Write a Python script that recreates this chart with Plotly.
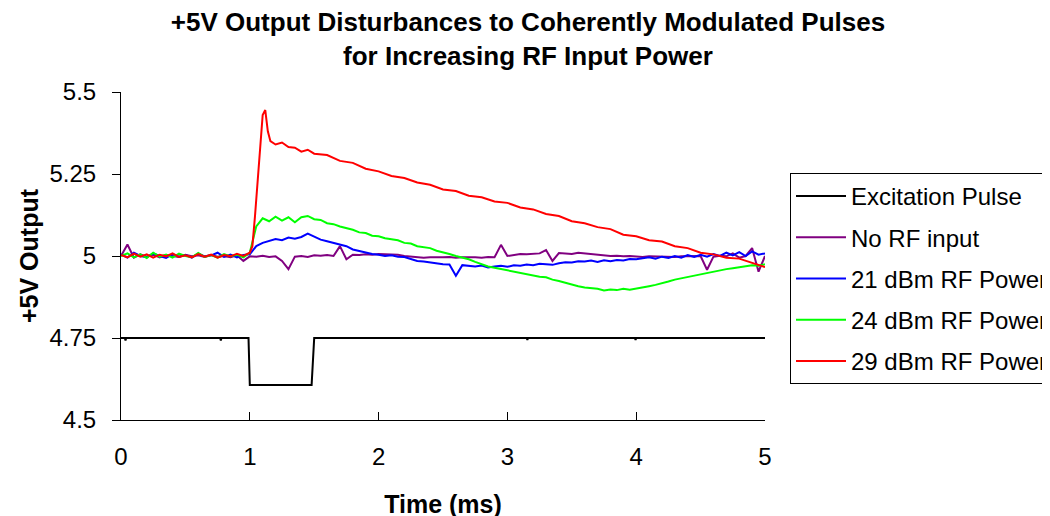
"""+5V output disturbances to coherently modulated pulses."""

import plotly.graph_objects as go

# time grid for the 0.05 ms sampled traces
TIME = [round(i * 0.05, 2) for i in range(101)]

NO_RF = [
    5.000, 5.035, 4.995, 5.005, 4.998, 5.004, 4.996, 5.003, 5.000, 4.997,
    5.004, 4.999, 5.002, 4.997, 5.003, 4.998, 5.000, 4.996, 5.002, 4.985,
    4.999, 4.998, 5.001, 4.997, 4.999, 4.985, 4.960, 4.998, 5.000, 4.997,
    5.002, 5.001, 5.003, 5.000, 5.030, 4.990, 5.004, 5.003, 5.005, 5.004,
    5.006, 5.005, 5.003, 5.004, 5.000, 4.998, 4.996, 4.995, 4.996, 4.995,
    4.996, 4.997, 4.995, 4.996, 4.997, 4.996, 4.995, 4.997, 4.996, 5.034,
    5.000, 5.004, 5.006, 5.005, 5.007, 5.008, 5.018, 4.985, 5.009, 5.008,
    5.006, 5.010, 5.008, 5.006, 5.004, 5.003, 5.000, 5.001, 4.999, 5.000,
    4.998, 4.997, 4.999, 4.998, 4.997, 4.998, 4.997, 4.999, 5.000, 4.999,
    5.000, 4.958, 4.998, 5.001, 4.999, 5.008, 4.995, 5.000, 5.024, 4.952,
    5.000,
]

RF_21 = [
    5.005, 4.995, 5.010, 5.000, 4.996, 5.008, 5.000, 4.994, 5.006, 4.998,
    5.003, 4.995, 5.007, 4.999, 5.002, 5.010, 4.997, 5.004, 4.996, 5.003,
    5.005, 5.030, 5.040, 5.045, 5.052, 5.048, 5.056, 5.053, 5.058, 5.068,
    5.058, 5.050, 5.045, 5.040, 5.034, 5.030, 5.020, 5.015, 5.010, 5.006,
    5.004, 5.000, 5.002, 4.998, 4.997, 4.992, 4.985, 4.983, 4.980, 4.978,
    4.975, 4.974, 4.940, 4.972, 4.970, 4.968, 4.971, 4.965, 4.968, 4.970,
    4.967, 4.972, 4.970, 4.974, 4.972, 4.976, 4.975, 4.973, 4.978, 4.981,
    4.980, 4.984, 4.983, 4.986, 4.982, 4.987, 4.984, 4.988, 4.986, 4.991,
    4.990, 4.993, 4.996, 4.992, 4.998, 4.994, 5.000, 4.995, 5.003, 4.997,
    5.004, 4.998, 5.006, 5.000, 5.010, 5.002, 5.012, 5.000, 5.014, 5.004,
    5.008,
]

RF_24 = [
    5.000, 5.008, 4.996, 5.005, 4.994, 5.010, 4.998, 5.004, 4.995, 5.007,
    5.000, 4.996, 5.009, 4.997, 5.003, 4.995, 5.006, 4.999, 5.004, 4.996,
    5.010, 5.090, 5.115, 5.106, 5.120, 5.108, 5.118, 5.103, 5.118, 5.122,
    5.112, 5.110, 5.100, 5.097, 5.090, 5.086, 5.080, 5.072, 5.070, 5.062,
    5.060, 5.054, 5.050, 5.048, 5.040, 5.038, 5.030, 5.028, 5.024, 5.016,
    5.012, 5.006, 5.000, 4.995, 4.990, 4.982, 4.975, 4.968, 4.964, 4.960,
    4.956, 4.952, 4.950, 4.945, 4.940, 4.937, 4.935, 4.928, 4.924, 4.918,
    4.912, 4.908, 4.904, 4.902, 4.900, 4.895, 4.898, 4.896, 4.900, 4.897,
    4.900, 4.904, 4.908, 4.912, 4.916, 4.922, 4.928, 4.932, 4.936, 4.940,
    4.945, 4.950, 4.954, 4.957, 4.960, 4.963, 4.966, 4.969, 4.972, 4.970,
    4.975,
]

# 29 dBm trace has its own finer sampling around the spike
RF_29_T = [
    0.00, 0.05, 0.10, 0.15, 0.20, 0.25, 0.30, 0.35, 0.40, 0.45,
    0.50, 0.55, 0.60, 0.65, 0.70, 0.75, 0.80, 0.85, 0.90, 0.95,
    1.00, 1.02, 1.04, 1.06, 1.08, 1.10, 1.12, 1.14, 1.16, 1.20,
    1.25, 1.30, 1.35, 1.40, 1.45, 1.50, 1.60, 1.70, 1.80, 1.90,
    2.00, 2.10, 2.20, 2.30, 2.40, 2.50, 2.60, 2.70, 2.80, 2.90,
    3.00, 3.10, 3.20, 3.30, 3.40, 3.50, 3.60, 3.70, 3.80, 3.90,
    4.00, 4.10, 4.20, 4.30, 4.40, 4.50, 4.60, 4.70, 4.80, 4.90,
    5.00,
]
RF_29 = [
    5.003, 4.996, 5.007, 4.998, 5.005, 4.995, 5.004, 4.999, 5.008, 4.997,
    5.002, 4.996, 5.006, 4.998, 5.004, 4.995, 5.003, 4.999, 5.007, 5.000,
    5.010, 5.030, 5.120, 5.220, 5.310, 5.430, 5.445, 5.380, 5.350, 5.340,
    5.346, 5.332, 5.330, 5.318, 5.324, 5.312, 5.308, 5.290, 5.284, 5.266,
    5.258, 5.244, 5.238, 5.224, 5.217, 5.203, 5.198, 5.184, 5.179, 5.166,
    5.162, 5.148, 5.142, 5.128, 5.122, 5.106, 5.100, 5.088, 5.082, 5.065,
    5.060, 5.048, 5.044, 5.030, 5.024, 5.010, 5.005, 4.995, 4.992, 4.978,
    4.966,
]

PULSE_T = [0.00, 0.03, 0.035, 0.04, 0.77, 0.775, 0.78, 0.99, 1.00, 1.48,
           1.50, 3.15, 3.155, 3.16, 3.99, 3.995, 4.00, 5.00]
PULSE_V = [4.750, 4.750, 4.742, 4.750, 4.750, 4.742, 4.750, 4.750, 4.607, 4.607,
           4.750, 4.750, 4.744, 4.750, 4.750, 4.744, 4.750, 4.750]

Y_TICKS = [4.5, 4.75, 5, 5.25, 5.5]
Y_TICK_TEXT = ["4.5", "4.75", "5", "5.25", "5.5"]
X_TICKS = [0, 1, 2, 3, 4, 5]

_FONT = "Liberation Sans, Arial, sans-serif"

series = [
    ("Excitation Pulse", PULSE_T, PULSE_V, "#000000"),
    ("No RF input", TIME, NO_RF, "#800080"),
    ("21 dBm RF Power", TIME, RF_21, "#0000FF"),
    ("24 dBm RF Power", TIME, RF_24, "#00FF00"),
    ("29 dBm RF Power", RF_29_T, RF_29, "#FF0000"),
]

fig = go.Figure()
for name, x, y, color in series:
    fig.add_trace(go.Scatter(
        x=x, y=y, mode="lines", name=name, legendgroup=name,
        line=dict(color=color, width=2),
    ))

# the page body adds an 8px offset, positions below compensate for it
fig.update_layout(
    width=1050, height=516,
    plot_bgcolor="white", paper_bgcolor="white",
    font=dict(family=_FONT, size=24, color="black"),
    title=dict(
        text="<b>+5V Output Disturbances to Coherently Modulated Pulses<br>for Increasing RF Input Power</b>",
        x=520 / 1050, xanchor="center", y=1 - 23 / 516, yanchor="middle",
        font=dict(family=_FONT, size=26, color="black"),
    ),
    margin=dict(l=113, r=293, t=84, b=104),
    legend=dict(
        xref="container", yref="container",
        x=782 / 1050, y=1 - 165 / 516, xanchor="left", yanchor="top",
        bordercolor="black", borderwidth=1, bgcolor="white",
        font=dict(size=24), tracegroupgap=7, itemwidth=50,
    ),
    showlegend=True,
)
fig.update_xaxes(
    range=[0, 5], tickvals=X_TICKS, showgrid=False, zeroline=False,
    showline=True, linecolor="black", linewidth=1, automargin=False,
    ticks="inside", ticklen=8, tickcolor="black",
    ticklabelstandoff=15,
    title=dict(text="<b>Time (ms)</b>", standoff=26, font=dict(size=25)),
)
fig.update_yaxes(
    range=[4.5, 5.5], tickvals=Y_TICKS, ticktext=Y_TICK_TEXT,
    showgrid=False, zeroline=False, automargin=False,
    showline=True, linecolor="black", linewidth=1,
    ticks="outside", ticklen=8, tickcolor="black",
    ticklabelstandoff=11,
    title=dict(text="<b>+5V Output</b>", standoff=3, font=dict(size=25)),
)

fig.write_html("out.html")
